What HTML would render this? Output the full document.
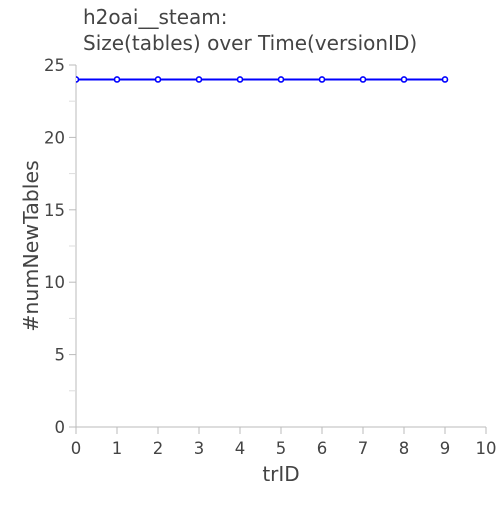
<!DOCTYPE html>
<html><head><meta charset="utf-8"><style>
html,body{margin:0;padding:0;background:#fff;}
svg text{font-family:"DejaVu Sans","Liberation Sans",sans-serif;fill:#444;}
</style></head><body>
<svg id="chart" width="500" height="500" viewBox="0 0 500 500" xmlns="http://www.w3.org/2000/svg">
<defs><clipPath id="clip"><rect x="76" y="60" width="415" height="367"/></clipPath></defs>
<text x="83" y="24" font-size="20">h2oai__steam:</text>
<text x="83" y="50" font-size="20">Size(tables) over Time(versionID)</text>
<g id="axes"></g>
<g id="series" clip-path="url(#clip)"></g>
<text x="281" y="481" font-size="20" text-anchor="middle">trID</text>
<text x="38" y="246" font-size="20.5" text-anchor="middle" transform="rotate(-90 38 246)">#numNewTables</text>
</svg>
<script>
const xCats=[0,1,2,3,4,5,6,7,8,9];
const yVals=[24,24,24,24,24,24,24,24,24,24];
const xTicks=[0,1,2,3,4,5,6,7,8,9,10];
const yTicks=[0,5,10,15,20,25];
const yMinor=[2.5,7.5,12.5,17.5,22.5];
const NS="http://www.w3.org/2000/svg";
const X0=76,X1=486,Y0=427,Y1=65;
const xs=v=>X0+(v-0)/(10-0)*(X1-X0);
const ys=v=>Y0-(v-0)/(25-0)*(Y0-Y1);
function mk(tag,attrs,parent){const e=document.createElementNS(NS,tag);for(const k in attrs)e.setAttribute(k,attrs[k]);parent.appendChild(e);return e;}
const axes=document.getElementById('axes'),series=document.getElementById('series');
let a=mk('line',{x1:X0,y1:Y1,x2:X0,y2:Y0,stroke:'#bbb','stroke-width':1},axes);


a=mk('line',{x1:X0,y1:Y0,x2:X1,y2:Y0,stroke:'#bbb','stroke-width':1},axes);


xTicks.forEach(t=>{
  const l=mk('line',{x1:xs(t),y1:Y0,x2:xs(t),y2:Y0+7,stroke:'#bbb'},axes);
  
  
  const tx=mk('text',{x:xs(t),y:Y0+27,'font-size':16.5,'text-anchor':'middle'},axes);tx.textContent=t;
  
  
});
yTicks.forEach(t=>{
  const l=mk('line',{x1:X0-7,y1:ys(t),x2:X0,y2:ys(t),stroke:'#bbb'},axes);
  
  
  const tx=mk('text',{x:X0-11,y:ys(t)+6,'font-size':16.5,'text-anchor':'end'},axes);tx.textContent=t;
  
  
});
yMinor.forEach(t=>{
  const l=mk('line',{x1:X0-7,y1:ys(t),x2:X0,y2:ys(t),stroke:'#ddd'},axes);
  
  
});
const pl=mk('polyline',{points:xCats.map((c,i)=>xs(c)+','+ys(yVals[i])).join(' '),fill:'none',stroke:'#0000ff','stroke-width':2},series);


xCats.forEach((c,i)=>{
  const p=mk('circle',{cx:xs(c),cy:ys(yVals[i]),r:2.5,fill:'#fff',stroke:'#0000ff','stroke-width':1.6},series);
  
  
});
</script>
</body></html>
